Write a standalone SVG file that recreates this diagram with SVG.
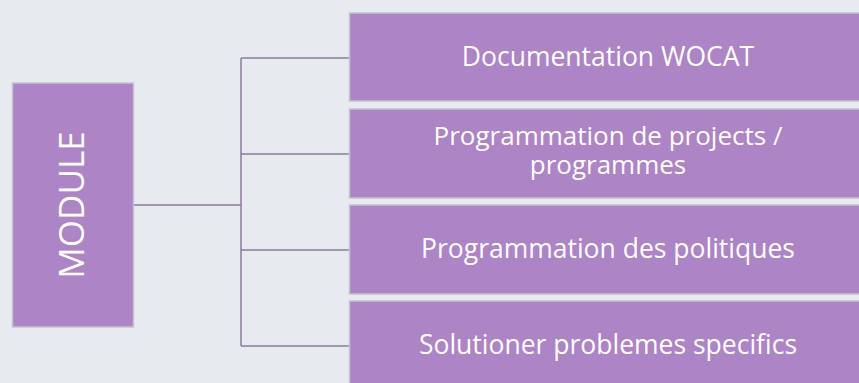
<svg xmlns="http://www.w3.org/2000/svg" width="859" height="383" viewBox="0 0 859 383">
<style>
.box{fill:#ad84c6;stroke:#c5c3cf;stroke-width:1.5}
.t{fill:#ffffff;font-family:"Open Sans","Liberation Sans",sans-serif;font-size:26.5px;text-anchor:middle}
.c{fill:none;stroke:#8c7b9f;stroke-width:1.5}
</style>
<rect width="859" height="383" fill="#e7eaef"/>
<g id="connectors">
<path class="c" d="M133,205 H241 M241,58 V346 M241,58 H350 M241,154 H350 M241,250 H350 M241,346 H350"/>
</g>
<g id="module">
<rect class="box" x="12.5" y="83" width="121" height="244"/>
<text class="t" style="font-size:35px" transform="translate(84,205) rotate(-90)">MODULE</text>
</g>
<g id="n1">
<rect class="box" x="349.5" y="13" width="520" height="88"/>
<text class="t" x="608" y="66">Documentation WOCAT</text>
</g>
<g id="n2">
<rect class="box" x="349.5" y="109" width="520" height="89"/>
<text class="t" style="font-size:26px" x="608" y="145"><tspan x="608">Programmation de projects /</tspan><tspan x="608" dy="29">programmes</tspan></text>
</g>
<g id="n3">
<rect class="box" x="349.5" y="205" width="520" height="89"/>
<text class="t" x="608" y="258">Programmation des politiques</text>
</g>
<g id="n4">
<rect class="box" x="349.5" y="301" width="520" height="89"/>
<text class="t" x="608" y="354">Solutioner problemes specifics</text>
</g>
</svg>
